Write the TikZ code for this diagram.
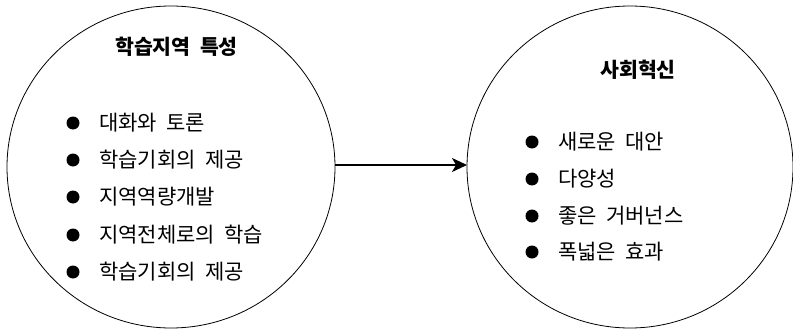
\documentclass[tikz,border=0pt]{standalone}
\usepackage{fontspec}
\setmainfont{Noto Sans CJK KR}[WordSpace=2]
\usetikzlibrary{arrows.meta}
\begin{document}
\begin{tikzpicture}[x=1pt,y=-1pt,
  ttl/.style={font=\fontsize{20.5}{20.5}\selectfont\bfseries, inner sep=0pt},
  itm/.style={font=\fontsize{21}{21}\selectfont, anchor=west, inner sep=0pt},
  dot/.style={circle,fill=black,inner sep=0pt,minimum size=13pt}
]
\useasboundingbox (0,0) rectangle (793,329);
\draw[line width=0.8pt] (171,167) ellipse [x radius=164, y radius=161];
\draw[line width=0.8pt] (630,167) ellipse [x radius=163, y radius=161];
\coordinate (Le) at (335,165);
\coordinate (Rw) at (467,165);
\draw[line width=1.8pt,-{Stealth[length=15pt,width=14pt,inset=4pt]}] (Le) -- (Rw);

\node[ttl] (t1) at (176.5,47) {학습지역 특성};
\foreach \y/\t [count=\i] in {123/대화와 토론,160/학습기회의 제공,197/지역역량개발,235/지역전체로의 학습,272/학습기회의 제공}{
  \node[dot] (lb\i) at (73,\y) {};
  \node[itm] (lt\i) at (99,\y) {\t};
}
\node[ttl] (t2) at (638,70) {사회혁신};
\foreach \y/\t [count=\i] in {142/새로운 대안,179/다양성,216/좋은 거버넌스,252/폭넓은 효과}{
  \node[dot] (rb\i) at (532,\y) {};
  \node[itm] (rt\i) at (558,\y) {\t};
}
\end{tikzpicture}
\end{document}
